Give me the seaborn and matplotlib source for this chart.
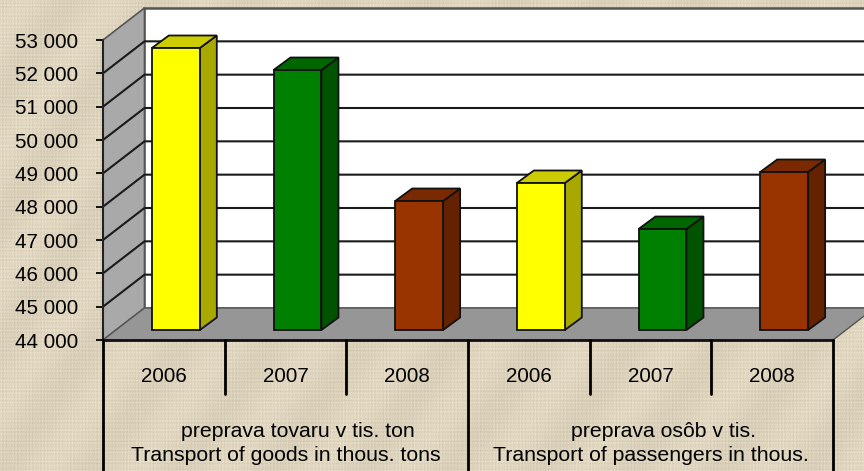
import numpy as np
import pandas as pd
import matplotlib
matplotlib.use('Agg')
import matplotlib.pyplot as plt
from matplotlib.patches import Polygon
import seaborn as sns

years = ['2006', '2007', '2008', '2006', '2007', '2008']
values = [52460, 51800, 47870, 48410, 47030, 48740]
front_colors = ['#ffff00', '#008000', '#993300', '#ffff00', '#008000', '#993300']
top_colors = ['#cccc00', '#006600', '#7a2900', '#cccc00', '#006600', '#7a2900']
side_colors = ['#a8a800', '#005400', '#652200', '#a8a800', '#005400', '#652200']
y_ticks = [44000, 45000, 46000, 47000, 48000, 49000, 50000, 51000, 52000, 53000]
groups_sk = ['preprava tovaru v tis. ton', 'preprava osôb v tis.']
groups_en = ['Transport of goods in thous. tons', 'Transport of passengers in thous.']

W, H = 864, 471


def px_axes(x0, y_top, x1, y_bottom, **kw):
    return fig.add_axes([x0 / W, 1 - y_bottom / H, (x1 - x0) / W, (y_bottom - y_top) / H], **kw)


sns.set_theme(style='white')
plt.rcParams['font.family'] = ['Liberation Sans', 'DejaVu Sans']

fig = plt.figure(figsize=(W / 100, H / 100), dpi=100)

# linen background
yy, xx = np.mgrid[0:H, 0:W]
weave = (np.sin(xx * 1.9) * np.sin(xx * 0.23 + 1) + np.sin(yy * 1.7) * np.sin(yy * 0.31)) * 6
weave += np.sin(xx * 0.07 + yy * 0.05) * 4 + np.sin(xx * 2.6 + yy * 1.3) * 3
texture = np.clip(np.dstack([222 + weave, 212 + weave, 190 + weave]), 0, 255).astype(np.uint8)
bg = fig.add_axes([0, 0, 1, 1], zorder=0)
bg.imshow(texture, aspect='auto')
bg.axis('off')

# front plane of the chart box, ticks live here
ax = px_axes(103, 40, 833, 340, zorder=1)
ax.patch.set_visible(False)
ax.set_xlim(0, 6)
ax.set_ylim(44000, 53000)
for s in ax.spines.values():
    s.set_visible(False)

depth_x, depth_y = 41.5 / 121.7, 960
far = 6 + depth_x
ax.add_patch(Polygon([(depth_x, 44000 + depth_y), (far, 44000 + depth_y), (far, 53000 + depth_y),
                      (depth_x, 53000 + depth_y)], fc='white', ec='#555555', lw=1.8, clip_on=False, zorder=1))
ax.add_patch(Polygon([(0, 44000), (depth_x, 44000 + depth_y), (depth_x, 53000 + depth_y), (0, 53000)],
                     fc='#a9a9a9', ec='#555555', lw=1.2, clip_on=False, zorder=2))
ax.add_patch(Polygon([(0, 44000), (depth_x, 44000 + depth_y), (far, 44000 + depth_y), (6, 44000)],
                     fc='#969696', ec='#555555', lw=1, clip_on=False, zorder=2))
for v in y_ticks[1:-1]:
    ax.plot([0, depth_x, far], [v, v + depth_y, v + depth_y], color='#1a1a1a', lw=1.5, clip_on=False, zorder=3)
ax.plot([0, 0], [44000, 53000], color='#222222', lw=1.5, clip_on=False, zorder=3)
ax.plot([0, 6], [44000, 44000], color='#111111', lw=2, clip_on=False, zorder=3)

ax.set_yticks(y_ticks)
ax.set_yticklabels([f'{v:,}'.replace(',', ' ') for v in y_ticks], fontsize=14.8, color='black')
ax.tick_params(axis='y', length=5, width=1.3, color='black', pad=13, left=True)
ax.set_xticks(np.arange(6) + 0.5)
ax.set_xticklabels(years, fontsize=14.8, color='black')
ax.tick_params(axis='x', length=0, pad=19.5)

# category and group separators below the box
for x, drop in [(0, 131), (1, 54), (2, 54), (3, 131), (4, 54), (5, 54), (6, 131)]:
    ax.plot([x, x], [44000, 44000 - drop * 30], color='black', lw=2, clip_on=False, zorder=3)
for x, sk, en in zip([1.5, 4.5], groups_sk, groups_en):
    ax.annotate(sk, xy=(x, 44000), xytext=(9, -59), xycoords='data', textcoords='offset points',
                ha='center', va='top', fontsize=15.3, color='black', annotation_clip=False)
    ax.annotate(en, xy=(x, 44000), xytext=(0, -76.5), xycoords='data', textcoords='offset points',
                ha='center', va='top', fontsize=15.3, color='black', annotation_clip=False)

# bars sit part way into the box
ax_bars = px_axes(115, 30, 845, 330, zorder=2)
ax_bars.patch.set_visible(False)
df = pd.DataFrame({'pos': [str(i) for i in range(6)], 'value': values})
sns.barplot(data=df, x='pos', y='value', hue='pos', palette=front_colors, legend=False, width=0.394,
            edgecolor='#111111', linewidth=1.3, saturation=1, ax=ax_bars)
ax_bars.set_xlim(-0.5, 5.5)
ax_bars.set_ylim(44000, 53000)
ax_bars.axis('off')

bar_dx, bar_dy = 17 / 121.7, 375
for i, p in enumerate(ax_bars.patches):
    left, right = p.get_x(), p.get_x() + p.get_width()
    top = values[i]
    p.set_y(44000)
    p.set_height(top - 44000)
    p.set_clip_on(False)
    p.set_zorder(5)
    ax_bars.add_patch(Polygon([(right, 44000), (right + bar_dx, 44000 + bar_dy), (right + bar_dx, top + bar_dy), (right, top)],
                              fc=side_colors[i], ec='#111111', lw=1.3, clip_on=False, zorder=4))
    ax_bars.add_patch(Polygon([(left, top), (left + bar_dx, top + bar_dy), (right + bar_dx, top + bar_dy), (right, top)],
                              fc=top_colors[i], ec='#111111', lw=1.3, clip_on=False, zorder=4))

fig.savefig('out.png', dpi=100)
